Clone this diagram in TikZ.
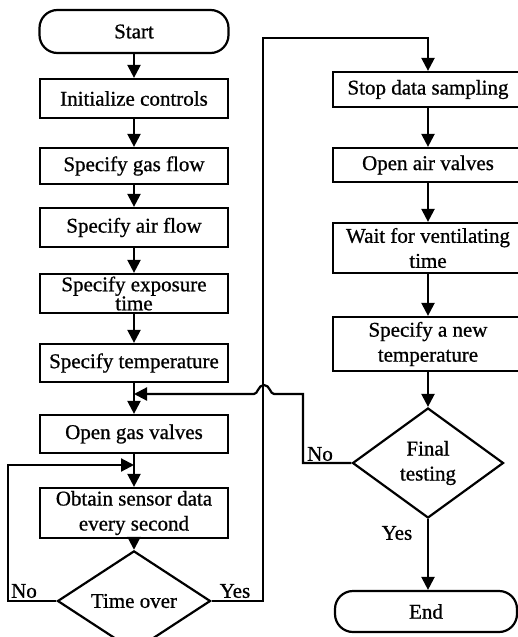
\documentclass[tikz,border=0pt]{standalone}
\usepackage{fontspec}
\setmainfont{Liberation Serif}
\newfontfamily\chartfont{Liberation Serif}[BoldFont = Liberation Serif, BoldFeatures = {FakeBold = 0.8}]
\usetikzlibrary{arrows.meta, shapes.geometric}

\tikzset{
    block/.style = {draw, black, line width = 2.2pt, minimum width = 188pt, minimum height = 38pt,
        inner sep = 0pt, align = center, font = \chartfont\bfseries\fontsize{21}{25}\selectfont},
    terminal/.style = {block, rounded corners = 18pt},
    decision/.style = {draw, black, line width = 2.2pt, diamond, inner sep = 0pt, align = center,
        font = \chartfont\bfseries\fontsize{21}{25}\selectfont},
    flow/.style = {black, line width = 2.2pt, -{Triangle[length = 13pt, width = 13pt]}},
    tag/.style = {inner sep = 0pt, font = \chartfont\bfseries\fontsize{21}{25}\selectfont}
}

\begin{document}
\begin{tikzpicture}[x = 1pt, y = -1pt]
            \useasboundingbox (0, 0) rectangle (517, 637);

            % left column
            \node[terminal, minimum width = 189pt, minimum height = 43pt] (start) at (134, 31.5) {Start};
            \node[block, minimum height = 39pt] (init) at (134, 98.5) {Initialize controls};
            \node[block, minimum height = 36pt] (gasflow) at (134, 166) {Specify gas flow};
            \node[block, minimum height = 39pt] (airflow) at (134, 227.5) {Specify air flow};
            \node[block, minimum height = 39pt] (exposure) at (134, 293.5) {Specify exposure\\[-6pt]time};
            \node[block] (temp) at (134, 363) {Specify temperature};
            \node[block] (gasvalves) at (134, 434) {Open gas valves};
            \node[block, minimum height = 50pt] (sensor) at (134, 513) {Obtain sensor data\\every second};
            \node[decision, minimum width = 153pt, minimum height = 72pt] (timeover) at (134, 601) {Time over};

            % right column
            \node[block, minimum width = 190pt, minimum height = 35pt] (stop) at (428, 89.5) {Stop data sampling};
            \node[block, minimum width = 190pt, minimum height = 34pt] (airvalves) at (428, 165) {Open air valves};
            \node[block, minimum width = 190pt, minimum height = 50pt] (wait) at (428, 248) {Wait for ventilating\\time};
            \node[block, minimum width = 190pt, minimum height = 54pt] (newtemp) at (428, 344) {Specify a new\\temperature};
            \node[decision, minimum width = 151pt, minimum height = 110pt] (final) at (428, 463) {Final\\testing};
            \node[terminal, minimum width = 182pt, minimum height = 41pt] (end) at (426, 611.5) {End};

            \coordinate (merge) at (134, 394);
            \coordinate (loopin) at (134, 465);

            % straight connectors
            \draw[flow] (start) -- (init);
            \draw[flow] (init) -- (gasflow);
            \draw[flow] (gasflow) -- (airflow);
            \draw[flow] (airflow) -- (exposure);
            \draw[flow] (exposure) -- (temp);
            \draw[flow] (temp) -- (gasvalves);
            \draw[flow] (gasvalves) -- (sensor);
            \draw[flow] (sensor) -- (timeover);
            \draw[flow] (stop) -- (airvalves);
            \draw[flow] (airvalves) -- (wait);
            \draw[flow] (wait) -- (newtemp);
            \draw[flow] (newtemp) -- (final);
            \draw[flow] (final.south) -- (final.south |- end.north);

            % loops
            \draw[flow] (timeover.west) -- (8, 601) -- (8, 465) -- (loopin);
            \draw[flow] (timeover.east) -- (263, 601) -- (263, 38) -- (428, 38) -- (stop);
            \draw[flow] (final.west) -- (303, 463) -- (303, 394) -- (274, 394)
                .. controls (270, 394) and (270, 385) .. (264, 385)
                .. controls (258, 385) and (258, 394) .. (254, 394) -- (merge);

            % labels
            \node[tag] (notime) at (24, 591) {No};
            \node[tag] (yestime) at (235, 591) {Yes};
            \node[tag] (nofinal) at (320, 454) {No};
            \node[tag] (yesfinal) at (397, 533) {Yes};

        \end{tikzpicture}
\end{document}
